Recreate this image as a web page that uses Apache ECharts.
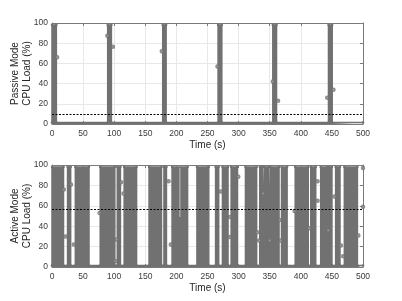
<!DOCTYPE html>
<html>
<head>
<meta charset="utf-8">
<script src="https://cdn.jsdelivr.net/npm/echarts@6/dist/echarts.min.js"></script>
<style>
  html, body { margin: 0; padding: 0; background: #fff; }
  #chart { width: 402px; height: 301px; }
</style>
</head>
<body>
<div id="chart"></div>
<script>
// passive mode: short busy bursts (s), rest idle
const passiveBusyStart = [0, 89.5, 178, 267, 355, 444.5];
const passiveBusyEnd = [7, 95.5, 183.5, 273, 361, 450.5];
const passiveStrayTime = [8.2, 88.9, 98, 176.5, 266, 355, 363.5, 442.5, 452.5];
const passiveStrayLoad = [66, 87.5, 76.5, 72, 57, 42, 23, 26, 34];
const passiveThreshold = 9.5;

// active mode
const activeBusyStart = [0, 25, 37.5, 77.5, 105, 116, 156, 180, 193, 233, 263, 274, 288, 311, 334, 341, 351, 369, 391, 416, 432, 445, 456, 470];
const activeBusyEnd = [18.5, 30, 59.5, 101, 110, 136, 176, 184, 218, 252, 268, 283, 298, 329, 338, 348, 365, 378, 412, 424, 443, 450, 463, 491];
const activeStrayTime = [19, 21.6, 30.5, 35, 76.5, 102, 104, 111, 115, 187.5, 191, 271, 286, 286, 299.5, 330, 333, 339.5, 350, 366, 367.6, 390, 413.5, 427, 427, 444, 454, 464.5, 468, 492.5, 500, 500];
const activeStrayLoad = [76, 30, 81, 22, 53, 6, 27, 83, 72, 84, 22, 74, 49, 29.5, 88.5, 34, 26, 72, 26, 46, 26, 55, 38, 84, 65, 36, 69, 21, 10.5, 31, 97, 59];
const activeStreakTime = [205.5, 205.5];
const activeStreakLoad = [97, 49];
const activeThreshold = 57;

const busyTop = 98;
const idleLoad = 1.5;

const font = 'Liberation Sans, Arial, Helvetica, sans-serif';
const grey = '#717171';
const boxColor = '#7a7a7a';

function busyLine(starts, ends) {
  const pts = [[0, idleLoad]];
  for (let i = 0; i < starts.length; i++) {
    pts.push([starts[i], idleLoad], [starts[i], busyTop], [ends[i], busyTop], [ends[i], idleLoad]);
  }
  pts.push([500, idleLoad]);
  return pts;
}

function pairs(xs, ys) {
  return xs.map((x, i) => [x, ys[i]]);
}

function mainX(g) {
  return {
    type: 'value', gridIndex: g, min: 0, max: 500, interval: 50, position: 'bottom',
    name: 'Time (s)', nameLocation: 'middle', nameGap: 16, nameMoveOverlap: false,
    nameTextStyle: { fontSize: 10, color: '#262626', fontFamily: font },
    axisLine: { show: true, onZero: false, lineStyle: { color: boxColor, width: 1 } },
    axisTick: { show: true, inside: true, length: 3, lineStyle: { color: boxColor } },
    axisLabel: { fontSize: 8.5, color: '#3a3a3a', margin: 5, fontFamily: font },
    splitLine: { show: true, lineStyle: { color: '#e8e8e8', width: 1 } }
  };
}
function boxX(g) {
  return {
    type: 'value', gridIndex: g, min: 0, max: 500, interval: 50, position: 'top',
    axisLine: { show: true, onZero: false, lineStyle: { color: boxColor, width: 1 } },
    axisTick: { show: true, inside: true, length: 3, lineStyle: { color: boxColor } },
    axisLabel: { show: false }, splitLine: { show: false }
  };
}
function mainY(g, name) {
  return {
    type: 'value', gridIndex: g, min: 0, max: 100, interval: 20, position: 'left',
    name: name, nameLocation: 'middle', nameGap: 19, nameMoveOverlap: false,
    nameTextStyle: { fontSize: 10, color: '#262626', fontFamily: font, lineHeight: 12 },
    axisLine: { show: true, onZero: false, lineStyle: { color: boxColor, width: 1 } },
    axisTick: { show: true, inside: true, length: 3, lineStyle: { color: boxColor } },
    axisLabel: { fontSize: 8.5, color: '#3a3a3a', margin: 4, fontFamily: font },
    splitLine: { show: true, lineStyle: { color: '#e8e8e8', width: 1 } }
  };
}
function boxY(g) {
  return {
    type: 'value', gridIndex: g, min: 0, max: 100, interval: 20, position: 'right',
    axisLine: { show: true, onZero: false, lineStyle: { color: boxColor, width: 1 } },
    axisTick: { show: true, inside: true, length: 3, lineStyle: { color: boxColor } },
    axisLabel: { show: false }, splitLine: { show: false }
  };
}

function loadSeries(xi, yi, starts, ends) {
  return {
    type: 'line', xAxisIndex: xi, yAxisIndex: yi, data: busyLine(starts, ends),
    symbol: 'circle', symbolSize: 2.5, showSymbol: true,
    lineStyle: { color: grey, width: 1.5 },
    itemStyle: { color: grey },
    areaStyle: { color: grey, opacity: 1 },
    z: 2
  };
}
function strays(xi, yi, xs, ys) {
  return {
    type: 'scatter', xAxisIndex: xi, yAxisIndex: yi, data: pairs(xs, ys),
    symbol: 'emptyCircle', symbolSize: 2.5,
    itemStyle: { color: grey, borderColor: grey, borderWidth: 0.8 }, z: 3
  };
}
function threshold(xi, yi, value) {
  return {
    type: 'line', xAxisIndex: xi, yAxisIndex: yi, data: [], z: 5,
    markLine: {
      silent: true, symbol: 'none', label: { show: false },
      lineStyle: { color: '#000', type: [2, 1.5], width: 1 },
      data: [{ yAxis: value }]
    }
  };
}

const chart = echarts.init(document.getElementById('chart'));
chart.setOption({
  animation: false,
  grid: [
    { left: 52, top: 23, width: 311, height: 101, outerBoundsMode: 'none', containLabel: false },
    { left: 52, top: 165, width: 311, height: 102, outerBoundsMode: 'none', containLabel: false }
  ],
  xAxis: [mainX(0), boxX(0), mainX(1), boxX(1)],
  yAxis: [mainY(0, 'Passive Mode\nCPU Load (%)'), boxY(0), mainY(1, 'Active Mode\nCPU Load (%)'), boxY(1)],
  series: [
    loadSeries(0, 0, passiveBusyStart, passiveBusyEnd),
    strays(0, 0, passiveStrayTime, passiveStrayLoad),
    threshold(0, 0, passiveThreshold),
    loadSeries(2, 2, activeBusyStart, activeBusyEnd),
    {
      type: 'line', xAxisIndex: 2, yAxisIndex: 2, data: pairs(activeStreakTime, activeStreakLoad),
      symbol: 'none', lineStyle: { color: '#a6a6a6', width: 1.5 }, z: 4
    },
    strays(2, 2, activeStrayTime, activeStrayLoad),
    threshold(2, 2, activeThreshold)
  ]
});
</script>
</body>
</html>
